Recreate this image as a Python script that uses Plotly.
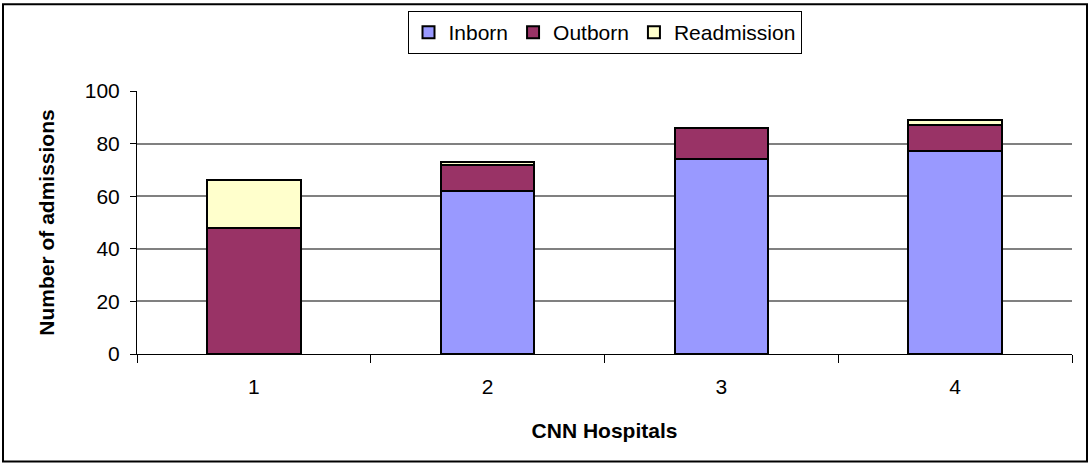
import plotly.graph_objects as go

# data
hospitals = ["1", "2", "3", "4"]
inborn = [0, 62, 74, 77]
outborn = [48, 10, 12, 10]
readmission = [18, 1, 0, 2]
y_ticks = [0, 20, 40, 60, 80, 100]

series = [
    ("Inborn", inborn, "#9999FF"),
    ("Outborn", outborn, "#993366"),
    ("Readmission", readmission, "#FFFFCC"),
]

fig = go.Figure()
for name, values, color in series:
    fig.add_trace(go.Bar(
        x=hospitals, y=values, name=name,
        marker=dict(color=color, line=dict(color="black", width=2)),
        width=0.4,
    ))

# plot area geometry in pixels (1090x466 page)
W, H = 1090, 466
L, R, T, B = 137, 18, 90, 112
pw, ph = W - L - R, H - T - B

fig.update_layout(
    barmode="stack",
    width=W, height=H,
    margin=dict(l=L, r=R, t=T, b=B),
    plot_bgcolor="white",
    paper_bgcolor="white",
    font=dict(family="Liberation Sans, Arial, sans-serif", size=21, color="black"),
    legend=dict(
        orientation="h", x=0.5, xanchor="center",
        y=(ph + T - 11) / ph, yanchor="top",
        bordercolor="black", borderwidth=1,
        font=dict(size=21), traceorder="normal",
        itemwidth=30,
    ),
)

fig.update_xaxes(
    type="category",
    title=dict(text="<b>CNN Hospitals</b>", font=dict(size=21), standoff=26),
    showgrid=False,
    ticks="outside", ticklen=8, tickcolor="black",
    tickson="boundaries", ticklabelstandoff=14,
    showline=True, linecolor="black", linewidth=1,
)
fig.update_yaxes(
    range=[0, 100], tickvals=y_ticks,
    title=dict(text="<b>Number of admissions</b>", font=dict(size=21), standoff=24),
    showgrid=True, gridcolor="#808080", gridwidth=1.5,
    ticks="outside", ticklen=6, tickcolor="black",
    ticklabelstandoff=6,
    showline=True, linecolor="black", linewidth=1,
    zeroline=False,
)

# outer frame around the whole chart
fig.add_shape(
    type="rect", xref="paper", yref="paper",
    x0=(3 - L) / pw, x1=(1087 - L) / pw,
    y0=(T + ph - 462) / ph, y1=(T + ph - 3) / ph,
    line=dict(color="black", width=2), layer="below",
)

fig.write_html("out.html", config={"displayModeBar": False},
               post_script="document.body.style.margin='0';")
